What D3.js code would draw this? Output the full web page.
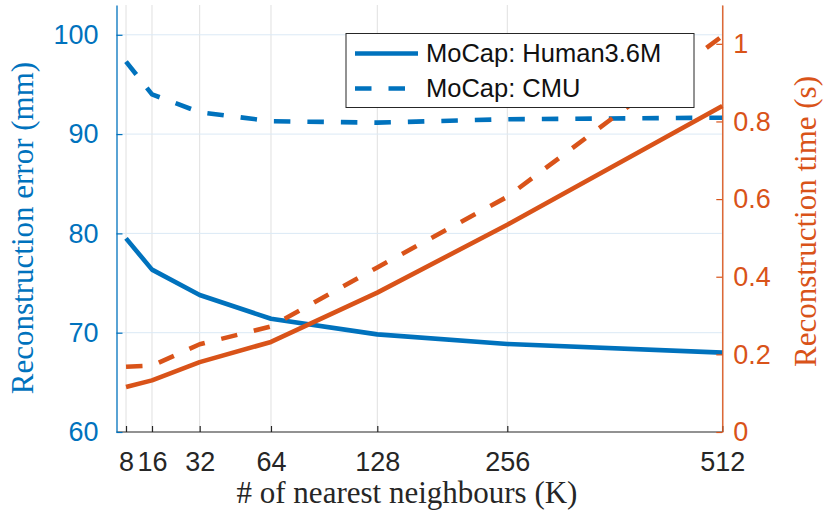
<!DOCTYPE html>
<html>
<head>
<meta charset="utf-8">
<script src="https://cdn.jsdelivr.net/npm/d3@7/dist/d3.min.js"></script>
<style>
  html, body { margin: 0; padding: 0; background: #fff; }
  svg { display: block; }
</style>
</head>
<body>
<svg id="chart" width="824" height="517"></svg>
<script>
// Number of nearest neighbours K
const kValues = [8, 16, 32, 64, 128, 256, 512];
const kTickLabels = ["8", "16", "32", "64", "128", "256", "512"];

// Reconstruction error (mm), left axis
const errHuman36M = [79.5, 76.35, 73.8, 71.4, 69.83, 68.86, 67.99];
const errCMU = [97.3, 94.0, 92.2, 91.3, 91.15, 91.5, 91.65];

// Reconstruction time (s), right axis
const timeHuman36M = [0.116, 0.133, 0.180, 0.232, 0.359, 0.534, 0.840];
const timeCMU = [0.168, 0.171, 0.226, 0.272, 0.424, 0.606, 1.02];

const errTicks = [60, 70, 80, 90, 100];
const timeTicks = [0, 0.2, 0.4, 0.6, 0.8, 1];
const timeTickLabels = ["0", "0.2", "0.4", "0.6", "0.8", "1"];
const seriesNames = ["MoCap: Human3.6M", "MoCap: CMU"];

const BLUE = "#0072BD";
const ORANGE = "#D95319";
const DARK = "#262626";

const svg = d3.select("#chart");
svg.append("rect").attr("width", 824).attr("height", 517).attr("fill", "#fff");

const plot = { left: 116.5, right: 722.3, top: 5, bottom: 432 };
const pw = plot.right - plot.left;

// K axis: uneven spacing of the K ticks across the plot width
const kFrac = [0.0157, 0.0586, 0.1373, 0.255, 0.4305, 0.6451, 1];
const x = d3.scaleLinear()
  .domain(kValues)
  .range(kFrac.map(f => plot.left + f * pw));

const yErr = d3.scaleLinear().domain([60, 103]).range([plot.bottom, plot.top]);
const yTime = d3.scaleLinear().domain([0, 1.1]).range([plot.bottom, plot.top]);

// grid
const grid = svg.append("g");
grid.selectAll("line.v").data(kValues).enter().append("line")
  .attr("x1", d => x(d)).attr("x2", d => x(d))
  .attr("y1", plot.top).attr("y2", plot.bottom)
  .attr("stroke", "#e0e0e0").attr("stroke-width", 1);
grid.selectAll("line.h").data(errTicks.slice(1)).enter().append("line")
  .attr("x1", plot.left).attr("x2", plot.right)
  .attr("y1", d => yErr(d)).attr("y2", d => yErr(d))
  .attr("stroke", "#dbe9f5").attr("stroke-width", 1);

// data lines
const idx = d3.range(kValues.length);
function drawLine(values, yScale, color, dashed) {
  const line = d3.line()
    .x(i => x(kValues[i]))
    .y(i => yScale(values[i]));
  svg.append("path")
    .datum(idx)
    .attr("d", line)
    .attr("fill", "none")
    .attr("stroke", color)
    .attr("stroke-width", 4.6)
    .attr("stroke-linejoin", "round")
    .attr("stroke-linecap", "butt")
    .attr("stroke-dasharray", dashed ? "16.5,17" : null);
}
drawLine(errHuman36M, yErr, BLUE, false);
drawLine(errCMU, yErr, BLUE, true);
drawLine(timeHuman36M, yTime, ORANGE, false);
drawLine(timeCMU, yTime, ORANGE, true);

// bottom axis
svg.append("line")
  .attr("x1", plot.left).attr("x2", plot.right)
  .attr("y1", plot.bottom).attr("y2", plot.bottom)
  .attr("stroke", DARK).attr("stroke-width", 1.2);
const xAxis = svg.append("g")
  .attr("transform", `translate(0,${plot.bottom})`)
  .call(d3.axisBottom(x).tickValues(kValues)
    .tickFormat((d, i) => kTickLabels[i])
    .tickSize(-6).tickPadding(20));
xAxis.select(".domain").remove();
xAxis.selectAll(".tick line").attr("stroke", DARK).attr("stroke-width", 1.2);
xAxis.selectAll(".tick text")
  .attr("fill", DARK)
  .style("font-family", "'Liberation Sans', Arial, sans-serif")
  .style("font-size", "27px");

// left axis
const yAxisL = svg.append("g")
  .attr("transform", `translate(${plot.left},0)`)
  .call(d3.axisLeft(yErr).tickValues(errTicks)
    .tickSize(-6).tickSizeOuter(0).tickPadding(18));
yAxisL.select(".domain").attr("stroke", BLUE).attr("stroke-width", 1.3);
yAxisL.selectAll(".tick line").attr("stroke", BLUE).attr("stroke-width", 1.2);
yAxisL.selectAll(".tick text")
  .attr("fill", BLUE)
  .style("font-family", "'Liberation Sans', Arial, sans-serif")
  .style("font-size", "27px");

// right axis
const yAxisR = svg.append("g")
  .attr("transform", `translate(${plot.right},0)`)
  .call(d3.axisRight(yTime).tickValues(timeTicks)
    .tickFormat((d, i) => timeTickLabels[i])
    .tickSize(-6).tickSizeOuter(0).tickPadding(11));
yAxisR.select(".domain").attr("stroke", ORANGE).attr("stroke-width", 1.3);
yAxisR.selectAll(".tick line").attr("stroke", ORANGE).attr("stroke-width", 1.2);
yAxisR.selectAll(".tick text")
  .attr("fill", ORANGE)
  .style("font-family", "'Liberation Sans', Arial, sans-serif")
  .style("font-size", "27px");

// axis titles
const serif = "'Liberation Serif', 'Times New Roman', serif";
svg.append("text")
  .attr("x", 407).attr("y", 503)
  .attr("text-anchor", "middle")
  .attr("fill", DARK)
  .style("font-family", serif).style("font-size", "31px")
  .text("# of nearest neighbours (K)");
svg.append("text")
  .attr("transform", "translate(33,228) rotate(-90)")
  .attr("text-anchor", "middle")
  .attr("fill", BLUE)
  .style("font-family", serif).style("font-size", "31px")
  .text("Reconstruction error (mm)");
svg.append("text")
  .attr("transform", "translate(816,221.5) rotate(-90)")
  .attr("text-anchor", "middle")
  .attr("fill", ORANGE)
  .style("font-family", serif).style("font-size", "31px")
  .text("Reconstruction time (s)");

// legend
const legend = svg.append("g").attr("transform", "translate(346,33.5)");
legend.append("rect")
  .attr("width", 348).attr("height", 74)
  .attr("fill", "#fff").attr("stroke", DARK).attr("stroke-width", 1);
const legendRows = legend.selectAll("g.row").data(seriesNames).enter().append("g")
  .attr("transform", (d, i) => `translate(0,${20 + i * 35})`);
legendRows.append("line")
  .attr("x1", 9).attr("x2", 72).attr("y1", 0).attr("y2", 0)
  .attr("stroke", BLUE).attr("stroke-width", 4.6)
  .attr("stroke-dasharray", (d, i) => i === 1 ? "16.5,17" : null);
legendRows.append("text")
  .attr("x", 80).attr("y", 0).attr("dy", "0.35em")
  .attr("fill", "#111")
  .style("font-family", "'Liberation Sans', Arial, sans-serif")
  .style("font-size", "25.5px")
  .text(d => d);
</script>
</body>
</html>
